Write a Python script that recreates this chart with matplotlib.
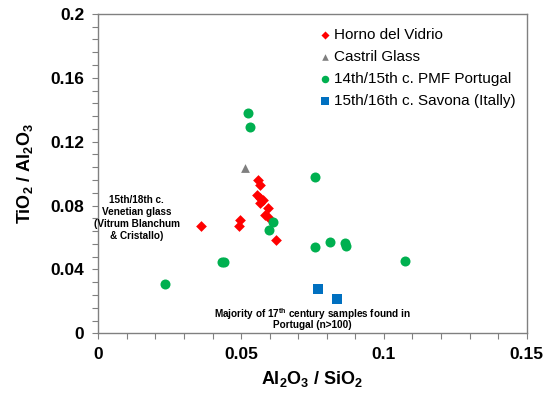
import matplotlib
matplotlib.use("Agg")
import matplotlib.pyplot as plt

plt.rcParams['font.family'] = ['Liberation Sans', 'DejaVu Sans']
plt.rcParams['mathtext.fontset'] = 'custom'
plt.rcParams['mathtext.rm'] = 'Liberation Sans'
plt.rcParams['mathtext.bf'] = 'Liberation Sans:bold'
plt.rcParams['mathtext.it'] = 'Liberation Sans:italic'

horno_x = [0.0360, 0.0496, 0.0493, 0.0560, 0.0566, 0.0555, 0.0566, 0.0578, 0.0566,
           0.0595, 0.0584, 0.0594, 0.0621]
horno_y = [0.0672, 0.0710, 0.0672, 0.0960, 0.0929, 0.0866, 0.0846, 0.0835, 0.0814,
           0.0783, 0.0741, 0.0728, 0.0584]
castril_x = [0.0512]
castril_y = [0.1036]
pmf_x = [0.0524, 0.0531, 0.0760, 0.0613, 0.0599, 0.0758, 0.0810, 0.0865, 0.0867,
         0.0432, 0.0439, 0.1074, 0.0232]
pmf_y = [0.1382, 0.1294, 0.0977, 0.0699, 0.0647, 0.0543, 0.0570, 0.0566, 0.0549,
         0.0447, 0.0447, 0.0451, 0.0311]
savona_x = [0.0770, 0.0835]
savona_y = [0.0276, 0.0215]

labels = ['Horno del Vidrio', 'Castril Glass', '14th/15th c. PMF Portugal',
          '15th/16th c. Savona (Itally)']

fig = plt.figure(figsize=(5.5, 3.94), dpi=100)
ax = fig.add_axes([0.1787, 0.154, 0.7789, 0.8106])

ax.scatter(horno_x, horno_y, marker='D', s=30, color='#ff0000', label=labels[0], zorder=3, linewidths=0)
ax.scatter(castril_x, castril_y, marker='^', s=40, color='#7f7f7f', label=labels[1], zorder=3, linewidths=0)
ax.scatter(pmf_x, pmf_y, marker='o', s=52, color='#00b050', label=labels[2], zorder=3, linewidths=0)
ax.scatter(savona_x, savona_y, marker='s', s=48, color='#0070c0', label=labels[3], zorder=3, linewidths=0)

ax.set_xlim(0, 0.15)
ax.set_ylim(0, 0.2)
ax.set_xticks([0, 0.05, 0.1, 0.15])
ax.set_xticklabels(['0', '0.05', '0.1', '0.15'])
ax.set_yticks([0, 0.04, 0.08, 0.12, 0.16, 0.2])
ax.set_yticklabels(['0', '0.04', '0.08', '0.12', '0.16', '0.2'])
ax.set_xticks([i * 0.01 for i in range(16)], minor=True)
ax.set_yticks([i * 0.008 for i in range(26)], minor=True)
ax.tick_params(which='both', direction='out', color='#808080', length=4, width=0.8)
ax.tick_params(which='major', labelsize=12.5, pad=6)
ax.tick_params(top=False, right=False)
for lab in ax.get_xticklabels() + ax.get_yticklabels():
    lab.set_fontweight('bold')
for sp in ax.spines.values():
    sp.set_color('#808080')
    sp.set_linewidth(1.0)

ax.set_xlabel(r'$\mathbf{Al_2O_3\ /\ SiO_2}$', fontsize=13, labelpad=5)
ax.set_ylabel(r'$\mathbf{TiO_2\ /\ Al_2O_3}$', fontsize=13, labelpad=11)

ax.text(0.01345, 0.0722, '15th/18th c.\nVenetian glass\n(Vitrum Blanchum\n& Cristallo)',
        ha='center', va='center', fontsize=7.2, fontweight='bold', linespacing=1.25)
ax.text(0.0751, 0.0122, 'Majority of 17$^{\\mathbf{th}}$ century samples found in',
        ha='center', va='center', fontsize=7.2, fontweight='bold')
ax.text(0.0751, 0.0050, 'Portugal (n>100)',
        ha='center', va='center', fontsize=7.2, fontweight='bold')

leg = ax.legend(loc='upper left', bbox_to_anchor=(0.505, 0.975), frameon=False,
                fontsize=11, handlelength=0.6, handletextpad=0.3,
                labelspacing=0.52, borderaxespad=0, scatterpoints=1, markerscale=0.75)

fig.savefig('out.png', dpi=100)
